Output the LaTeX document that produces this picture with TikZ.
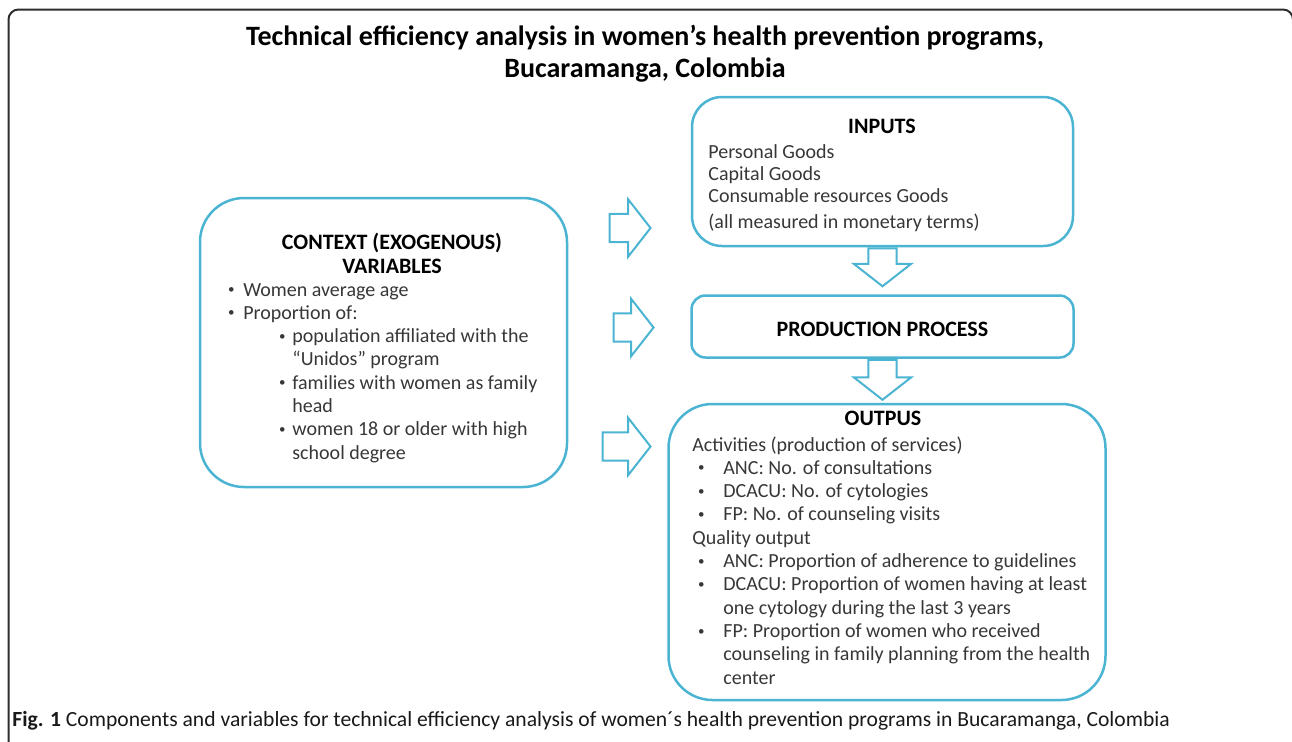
\documentclass[tikz,border=0pt]{standalone}
\usepackage{fontspec}
\setmainfont{Carlito}
\usetikzlibrary{positioning,shapes.arrows}
\definecolor{lineblue}{RGB}{74,180,210}
\definecolor{textgray}{RGB}{55,55,55}
\definecolor{framegray}{RGB}{45,45,45}
\tikzstyle{box} = [draw=lineblue, line width=1.25pt, inner sep=0pt]
\tikzstyle{flow} = [draw=lineblue, fill=white, line width=1pt, single arrow, inner xsep=0pt, inner ysep=6.6pt, single arrow head extend=7.2pt, single arrow tip angle=104]
\tikzstyle{body} = [inner sep=0pt, text=textgray, font=\fontsize{10}{11.65}\selectfont, anchor=base west]
\tikzstyle{head} = [inner sep=0pt, font=\bfseries\fontsize{11}{12}\selectfont, anchor=base]
\newcommand{\bul}[1]{\makebox[#1][l]{\hspace*{0.8pt}\raisebox{1.2pt}{\fontsize{6.5}{7}\selectfont\textbullet}}}

\begin{document}
\begin{tikzpicture}[x=0.5pt, y=-0.5pt]
    \useasboundingbox (0,0) rectangle (1292,741);
    \begin{scope}
      \clip (0,0) rectangle (1292,741);
      \draw [framegray, line width=1pt, rounded corners=5pt] (8.5,760) -- (8.5,9.5) -- (1293,9.5) -- (1293,760);
    \end{scope}

    \node (title) [inner sep=0pt, anchor=base, font=\bfseries\fontsize{14}{16}\selectfont] at (645,45) {\begin{tabular}[t]{@{}c@{}}Technical efficiency analysis in women’s health prevention programs,\\Bucaramanga, Colombia\end{tabular}};

    \node (context) [box, rounded corners=22pt, minimum width=183.5pt, minimum height=144.5pt] at (383.5,342.5) {};
    \node (contexthead) [head] at (392,249) {\begin{tabular}[t]{@{}c@{}}CONTEXT (EXOGENOUS)\\VARIABLES\end{tabular}};
    \node (contextlist) [body] at (226,296) {\begin{tabular}[t]{@{}l@{}}
      \bul{8.5pt}Women average age\\
      \bul{8.5pt}Proportion of:\\
      \hspace*{25.5pt}\bul{7.5pt}population affiliated with the\\
      \hspace*{33pt}“Unidos” program\\
      \hspace*{25.5pt}\bul{7.5pt}families with women as family\\
      \hspace*{33pt}head\\
      \hspace*{25.5pt}\bul{7.5pt}women 18 or older with high\\
      \hspace*{33pt}school degree
    \end{tabular}};

    \node (inputs) [box, rounded corners=15pt, minimum width=190.5pt, minimum height=74.5pt] at (882.5,171.5) {};
    \node (inputshead) [head] at (882,133) {INPUTS};
    \node (inputslist) [body, font=\fontsize{10}{11.2}\selectfont] at (708,158) {\begin{tabular}[t]{@{}l@{}}
      Personal Goods\\
      Capital Goods\\
      Consumable resources Goods\\[1.8pt]
      (all measured in monetary terms)
    \end{tabular}};

    \node (production) [box, rounded corners=7pt, minimum width=191pt, minimum height=31pt, below=23.5pt of inputs, font=\bfseries\fontsize{11}{12}\selectfont, text height=10pt] {PRODUCTION PROCESS};

    \node (outputs) [box, rounded corners=22pt, minimum width=218.5pt, minimum height=148pt, below=22pt of production, xshift=2.25pt] {};
    \node (outputshead) [head] at (883,425.5) {OUTPUS};
    \node (outputslist) [body] at (692,451) {\begin{tabular}[t]{@{}l@{}}
      Activities (production of services)\\
      \hspace*{2pt}\bul{13.5pt}ANC: No. of consultations\\
      \hspace*{2pt}\bul{13.5pt}DCACU: No. of cytologies\\
      \hspace*{2pt}\bul{13.5pt}FP: No. of counseling visits\\
      Quality output\\
      \hspace*{2pt}\bul{13.5pt}ANC: Proportion of adherence to guidelines\\
      \hspace*{2pt}\bul{13.5pt}DCACU: Proportion of women having at least\\
      \hspace*{15.5pt}one cytology during the last 3 years\\
      \hspace*{2pt}\bul{13.5pt}FP: Proportion of women who received\\
      \hspace*{15.5pt}counseling in family planning from the health\\
      \hspace*{15.5pt}center
    \end{tabular}};

    % block arrows
    \node (toinputs) [flow, minimum height=20.5pt] at (624.5,228) {};
    \node (toprocess) [flow, minimum height=20pt] at (628,327.5) {};
    \node (tooutputs) [flow, minimum height=24pt] at (621,446.5) {};
    \node (inflow) [flow, rotate=-90, minimum height=19pt, anchor=tail] at (inputs.south) {};
    \node (outflow) [flow, rotate=-90, minimum height=20pt, anchor=tail] at (production.south) {};

    \node (caption) [inner sep=0pt, anchor=base west, text=black!90, font=\fontsize{10.8}{13}\selectfont] at (12,726) {\textbf{Fig. 1} Components and variables for technical efficiency analysis of women´s health prevention programs in Bucaramanga, Colombia};
  \end{tikzpicture}
\end{document}
